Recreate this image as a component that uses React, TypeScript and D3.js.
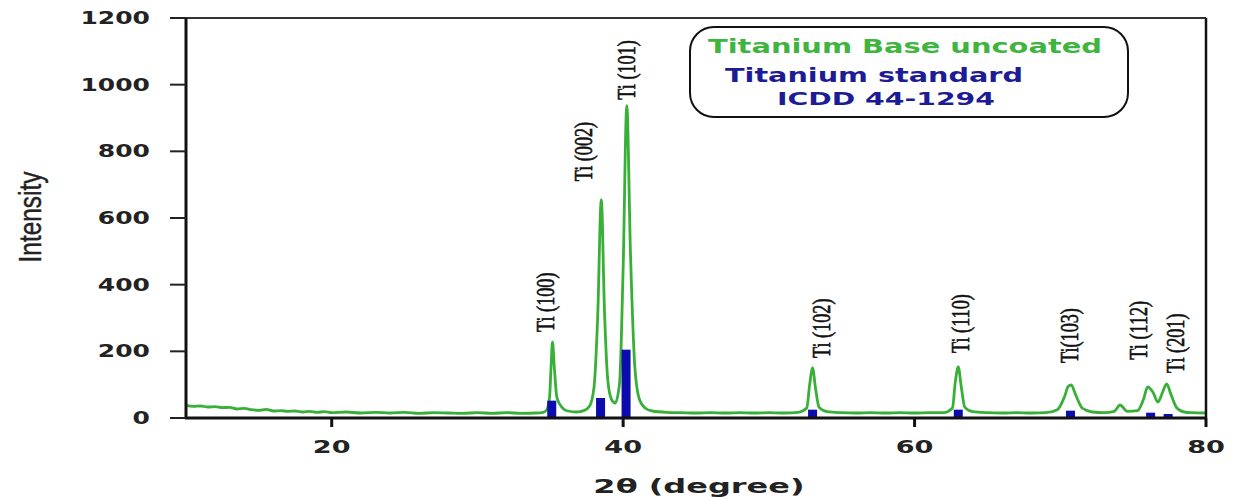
import React from "react";
import * as d3 from "d3";

// Measured XRD pattern of the uncoated titanium base (2θ in degrees, intensity)
const theta: number[] = [
  10, 10.5, 11, 11.5, 12, 12.5, 13, 13.5, 14, 14.5, 15, 15.5, 16, 16.5, 17, 17.5, 18, 18.5, 19, 19.5,
  20, 21, 22, 23, 24, 25, 26, 27, 28, 29, 30, 31, 32, 33, 34, 34.5,
  34.75, 34.95, 35.05, 35.15, 35.28, 35.45, 35.8, 36.2, 36.8, 37.3, 37.7, 38.0, 38.25, 38.5, 38.72, 38.95,
  39.2, 39.45, 39.75, 40.0, 40.25, 40.5, 40.8, 41.1, 41.5, 42, 43, 44, 45, 46, 47, 48, 49, 50, 51, 52,
  52.6, 52.8, 53.0, 53.2, 53.45, 54, 55, 56, 57, 58, 59, 60, 61, 62,
  62.6, 62.8, 63.0, 63.2, 63.45, 64, 65, 66, 67, 68, 69,
  69.8, 70.3, 70.55, 70.75, 71.05, 71.5, 72.2, 73, 73.7, 74.1, 74.6, 75.3, 75.7, 76.0, 76.35, 76.7,
  77.0, 77.3, 77.6, 78.0, 78.5, 79, 80,
];
const intensity: number[] = [
  38, 35, 36, 33, 34, 31, 32, 27, 29, 25, 23, 26, 21, 22, 20, 21, 18, 20, 17, 19,
  16, 18, 15, 17, 15, 17, 14, 16, 15, 14, 16, 14, 16, 14, 15, 17,
  24, 62, 150, 228, 150, 62, 32, 21, 18, 22, 36, 92, 300, 655, 320, 112,
  56, 45, 102, 450, 937, 500, 155, 58, 30, 21, 17, 16, 15, 16, 15, 16, 15, 16, 15, 17,
  30, 100, 150, 90, 32, 19, 16, 15, 16, 15, 16, 15, 16, 16,
  30, 110, 153, 95, 32, 19, 16, 15, 16, 15, 16,
  25, 65, 95, 99, 70, 30, 18, 16, 20, 39, 20, 22, 55, 93, 78, 48,
  75, 102, 70, 30, 18, 16, 15,
];

// ICDD 44-1294 standard reflections
const stdTheta: number[] = [35.1, 38.45, 40.2, 53.0, 63.0, 70.7, 76.2, 77.4];
const stdIntensity: number[] = [52, 60, 205, 25, 25, 22, 16, 12];

// Peak labels
const peakNames: string[] = ["Ti (100)", "Ti (002)", "Ti (101)", "Ti (102)", "Ti (110)", "Ti(103)", "Ti (112)", "Ti (201)"];
const peakLabelTheta: number[] = [34.65, 37.3, 40.2, 53.6, 63.15, 70.6, 75.35, 77.9];
const peakLabelIntensity: number[] = [258, 710, 955, 180, 195, 165, 175, 135];

const xTicks: number[] = [20, 40, 60, 80];
const yTicks: number[] = [0, 200, 400, 600, 800, 1000, 1200];

const W = 1234;
const H = 500;
const left = 186;
const right = 1206;
const top = 18;
const bottom = 418;

export default function App() {
  const x = d3.scaleLinear().domain([10, 80]).range([left, right]);
  const y = d3.scaleLinear().domain([0, 1200]).range([bottom, top]);

  const pts: [number, number][] = theta.map((t, i) => [t, intensity[i]]);
  const line = d3
    .line<[number, number]>()
    .x((d) => x(d[0]))
    .y((d) => y(d[1]))
    .curve(d3.curveMonotoneX);

  const tickFont = "'DejaVu Sans', sans-serif";
  const barW = 9;

  return (
    <svg width={W} height={H} style={{ position: "absolute", left: 0, top: 0, background: "#fff" }}>
      <rect x={0} y={0} width={W} height={H} fill="#fff" />
      {/* spectrum */}
      <path d={line(pts) || ""} fill="none" stroke="#38b038" strokeWidth={2.8} strokeLinejoin="round" />
      {/* standard bars */}
      {stdTheta.map((t, i) => (
        <rect
          key={"b" + i}
          x={x(t) - barW / 2}
          y={y(stdIntensity[i])}
          width={barW}
          height={y(0) - y(stdIntensity[i])}
          fill="#0c0cae"
        />
      ))}
      {/* frame */}
      <line x1={left} x2={right} y1={top} y2={top} stroke="#333" strokeWidth={2} />
      <line x1={right} x2={right} y1={top} y2={bottom} stroke="#111" strokeWidth={2.5} />
      <line x1={left} x2={left} y1={top} y2={bottom + 1} stroke="#111" strokeWidth={3} />
      <line x1={left - 1} x2={right + 1} y1={bottom} y2={bottom} stroke="#111" strokeWidth={3} />
      {/* y ticks */}
      {yTicks.map((v) => (
        <g key={"y" + v}>
          <line x1={left - 16} x2={left} y1={y(v)} y2={y(v)} stroke="#222" strokeWidth={2} />
          <text
            transform={`translate(150,${y(v) + 6}) scale(1.47,1)`}
            textAnchor="end"
            fontFamily={tickFont}
            fontWeight="bold"
            fontSize={17}
            fill="#222"
          >
            {v}
          </text>
        </g>
      ))}
      {/* x ticks */}
      {xTicks.map((v) => (
        <g key={"x" + v}>
          <line x1={x(v)} x2={x(v)} y1={bottom} y2={bottom + 9} stroke="#111" strokeWidth={3} />
          <text
            transform={`translate(${x(v)},453) scale(1.55,1)`}
            textAnchor="middle"
            fontFamily={tickFont}
            fontWeight="bold"
            fontSize={17.5}
            fill="#222"
          >
            {v}
          </text>
        </g>
      ))}
      {/* axis titles */}
      <text
        transform="translate(699,493) scale(1.6,1)"
        textAnchor="middle"
        fontFamily={tickFont}
        fontWeight="bold"
        fontSize={20}
        fill="#222"
      >
        2θ (degree)
      </text>
      <text
        transform="translate(30,217) scale(1.3,1) rotate(-90)"
        textAnchor="middle"
        dominantBaseline="central"
        fontFamily="'Liberation Sans', Arial, sans-serif"
        fontSize={24.4}
        fill="#222"
        stroke="#222"
        strokeWidth={0.3}
      >
        Intensity
      </text>
      {/* peak labels */}
      {peakNames.map((n, i) => (
        <text
          key={"p" + i}
          transform={`translate(${x(peakLabelTheta[i])},${y(peakLabelIntensity[i])}) scale(1.38,1) rotate(-90)`}
          textAnchor="start"
          dominantBaseline="central"
          fontFamily="'Liberation Serif', 'Times New Roman', serif"
          fontSize={18.2}
          fill="#111"
          stroke="#111"
          strokeWidth={0.45}
        >
          {n}
        </text>
      ))}
      {/* legend */}
      <rect x={690} y={27} width={438} height={90} rx={24} ry={24} fill="#fff" stroke="#111" strokeWidth={2} />
      <text x={708} y={53} textLength={394} lengthAdjust="spacingAndGlyphs" fontFamily={tickFont} fontWeight="bold" fontSize={20} fill="#3fb43f">
        Titanium Base uncoated
      </text>
      <text x={725} y={82} textLength={298} lengthAdjust="spacingAndGlyphs" fontFamily={tickFont} fontWeight="bold" fontSize={19.5} fill="#1c1c96">
        Titanium standard
      </text>
      <text x={777} y={105} textLength={218} lengthAdjust="spacingAndGlyphs" fontFamily={tickFont} fontWeight="bold" fontSize={18} fill="#1c1c96">
        ICDD 44-1294
      </text>
    </svg>
  );
}
